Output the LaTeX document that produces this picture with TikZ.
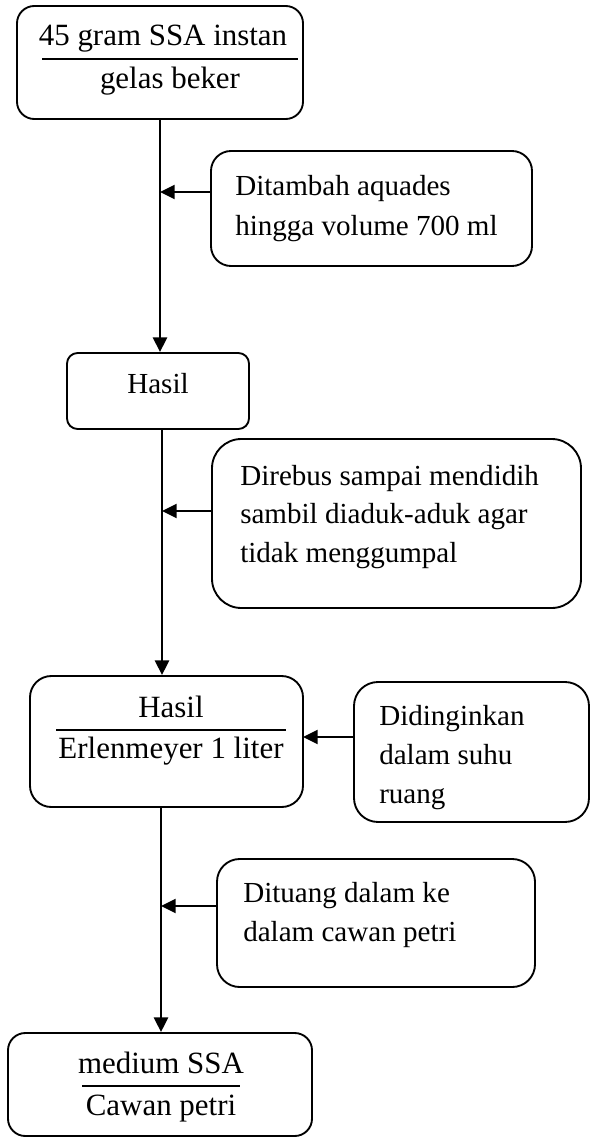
\documentclass[tikz,border=0pt]{standalone}
\usepackage{fontspec}
\setmainfont{Liberation Serif}
\usetikzlibrary{arrows.meta,fit}
\begin{document}
\begin{tikzpicture}[x=0.75pt,y=-0.75pt,
  box/.style={draw, line width=1.4pt, inner sep=0pt, rounded corners=#1},
  box/.default=13pt,
  flow/.style={line width=1.7pt, -{Triangle[length=11pt,width=10.5pt]}},
  note/.style={font=\fontsize{21.8pt}{30pt}\selectfont, anchor=base west, inner sep=0pt},
  lab/.style={font=\fontsize{23.2pt}{30pt}\selectfont, anchor=base, inner sep=0pt},
  rule/.style={line width=1.9pt}]
\useasboundingbox (0,0) rectangle (591,1138);

% main column boxes
\node[box=13pt, fit={(17,6) (303,119)}] (start) {};
\node[box=8pt,  fit={(67,353) (249,429)}] (hasil) {};
\node[box=16pt, fit={(30,676) (303,807)}] (erl) {};
\node[box=13pt, fit={(8,1033) (312,1136)}] (medium) {};

% side step boxes
\node[box=15pt, fit={(211,151) (532,266)}] (tambah) {};
\node[box=22pt, fit={(212,439) (581,608)}] (rebus) {};
\node[box=18pt, fit={(354,682) (589,822)}] (dingin) {};
\node[box=17pt, fit={(217,859) (535,987)}] (tuang) {};

% texts of the main column
\node[lab] (s1) at (163,46) {45 gram SSA instan};
\draw[rule] (42,59) -- (298,59);
\node[lab] (s2) at (170,89) {gelas beker};

\node[note, anchor=base] (h1) at (158,393) {Hasil};

\node[lab] (e1) at (171,717) {Hasil};
\draw[rule] (56,730) -- (286,730);
\node[lab] (e2) at (171,758) {Erlenmeyer 1 liter};

\node[lab] (m1) at (161,1073) {medium SSA};
\draw[rule] (82,1086) -- (240,1086);
\node[lab] (m2) at (161,1115) {Cawan petri};

% texts of the side steps
\node[note] (a1) at (235,195) {Ditambah aquades};
\node[note] (a2) at (235,235) {hingga volume 700 ml};

\node[note] (b1) at (240,485) {Direbus sampai mendidih};
\node[note] (b2) at (240,523) {sambil diaduk-aduk agar};
\node[note] (b3) at (240,562) {tidak menggumpal};

\node[note] (c1) at (379,725) {Didinginkan};
\node[note] (c2) at (379,764) {dalam suhu};
\node[note] (c3) at (379,803) {ruang};

\node[note] (d1) at (243,902) {Dituang dalam ke};
\node[note] (d2) at (243,941) {dalam cawan petri};

% junction points on the main line
\coordinate (j1) at (160,192);
\coordinate (j2) at (162,511);
\coordinate (j3) at (161,906);
\coordinate (j4) at (303,737);

% main flow
\draw[flow] (start.south -| j1) -- (j1 |- hasil.north);
\draw[flow] (hasil.south -| j2) -- (j2 |- erl.north);
\draw[flow] (erl.south -| j3) -- (j3 |- medium.north);

% side inputs
\draw[flow] (tambah.west |- j1) -- (j1);
\draw[flow] (rebus.west |- j2) -- (j2);
\draw[flow] (dingin.west |- j4) -- (j4);
\draw[flow] (tuang.west |- j3) -- (j3);
\end{tikzpicture}
\end{document}
